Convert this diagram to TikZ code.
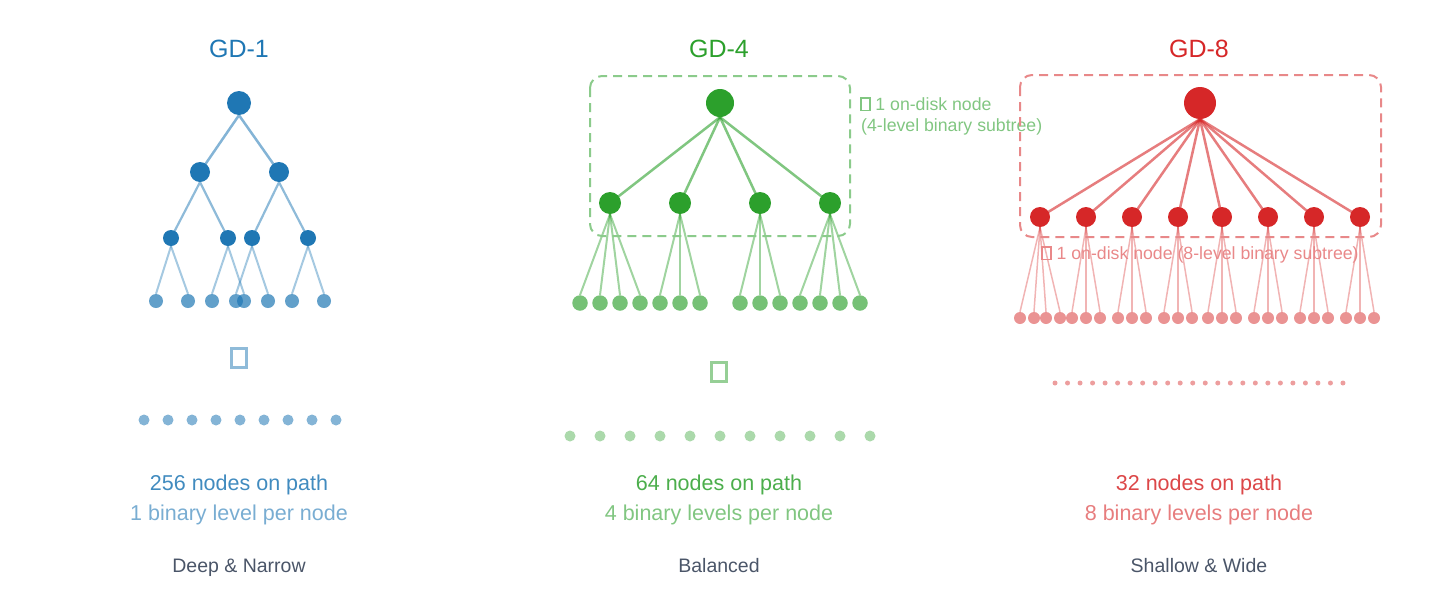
\documentclass[tikz,border=0pt]{standalone}
\usepackage{fontspec}
\setmainfont{Liberation Sans}
\usetikzlibrary{backgrounds}
\definecolor{cB}{HTML}{1F77B4}
\definecolor{cG}{HTML}{2CA02C}
\definecolor{cR}{HTML}{D62728}
\definecolor{slate}{HTML}{4A5568}
\newcommand\tofuglyph{{\setlength\fboxsep{0pt}\setlength\fboxrule{1.4pt}\fbox{\rule{0pt}{11.5pt}\hspace{7.5pt}}}}
\begin{document}
\begin{tikzpicture}[x=1pt,y=-1pt,
  dotn/.style={circle,inner sep=0pt,draw=none,minimum size=#1},
  title/.style={font=\fontsize{25}{30}\selectfont,anchor=base,inner sep=0pt},
  mainline/.style={font=\fontsize{21.5}{25}\selectfont,anchor=base,inner sep=0pt},
  caption/.style={font=\fontsize{19.5}{23}\selectfont,anchor=base,inner sep=0pt,text=slate},
  annot/.style={font=\fontsize{17.7}{21}\selectfont,inner sep=0pt},
  tofu/.style={draw=#1,line width=3pt,minimum width=15pt,minimum height=19pt,inner sep=0pt},
  diskbox/.style={draw=#1,line width=2pt,dash pattern=on 9pt off 6pt,rounded corners=12pt},
]
\useasboundingbox (0,0) rectangle (1440,600);

% ================= GD-1 =================
\node[title,text=cB] (t1) at (239,57) {GD-1};
\node[dotn=24pt,fill=cB] (b0) at (239,103) {};
\node[dotn=20pt,fill=cB] (b10) at (200,172) {};
\node[dotn=20pt,fill=cB] (b11) at (279,172) {};
\foreach \x [count=\i from 0] in {171,228,252,308}
  \node[dotn=16pt,fill=cB] (b2\i) at (\x,238) {};
\foreach \x [count=\i from 0] in {156,188,212,236,244,268,292,324}
  \node[dotn=14pt,fill=cB,fill opacity=.7] (b3\i) at (\x,301) {};
\begin{scope}[on background layer]
  \draw[cB,line width=2.5pt,draw opacity=.55] (b0.south) -- (b10.center) (b0.south) -- (b11.center);
  \draw[cB,line width=2.2pt,draw opacity=.5] (b10.south) -- (b20.center) (b10.south) -- (b21.center) (b11.south) -- (b22.center) (b11.south) -- (b23.center);
  \foreach \p/\c in {b20/b30,b20/b31,b21/b32,b21/b34,b22/b33,b22/b35,b23/b36,b23/b37}
    \draw[cB,line width=2pt,draw opacity=.4] (\p.south) -- (\c.north);
\end{scope}
\node[tofu=cB!50!white] (tb1) at (239,358) {};
\foreach \x [count=\i] in {144,168,192,216,240,264,288,312,336}
  \node[dotn=11pt,fill=cB,fill opacity=.55] (db\i) at (\x,420) {};
\node[mainline,text=cB!85!white] (m1) at (239,490) {256 nodes on path};
\node[mainline,text=cB!60!white] (s1) at (239,520) {1 binary level per node};
\node[caption] (c1) at (239,572) {Deep \& Narrow};

% ================= GD-4 =================
\node[title,text=cG] (t4) at (719,57) {GD-4};
\draw[diskbox=cG!55!white] (590,76) rectangle (850,236);
\node[dotn=28pt,fill=cG] (g0) at (720,103) {};
\foreach \x [count=\i] in {610,680,760,830}
  \node[dotn=22pt,fill=cG] (g1\i) at (\x,203) {};
\foreach \x [count=\i] in {580,600,620,640,660,680,700,740,760,780,800,820,840,860}
  \node[dotn=15.5pt,fill=cG,fill opacity=.65] (g2\i) at (\x,303) {};
\begin{scope}[on background layer]
  \foreach \i in {1,...,4}
    \draw[cG,line width=2.5pt,draw opacity=.6] (g0.south) -- (g1\i.center);
  \foreach \p/\c in {1/1,1/2,1/3,1/4,2/5,2/6,2/7,3/8,3/9,3/10,4/11,4/12,4/13,4/14}
    \draw[cG,line width=2pt,draw opacity=.45] (g1\p.south) -- (g2\c.north);
\end{scope}
\node[annot,text=cG!60!white,anchor=base west] (a4a) at (860,110) {\tofuglyph{} 1 on-disk node};
\node[annot,text=cG!60!white,anchor=base west] (a4b) at (861,131) {(4-level binary subtree)};
\node[tofu=cG!50!white] (tb4) at (719,372) {};
\foreach \x [count=\i] in {570,600,630,660,690,720,750,780,810,840,870}
  \node[dotn=11pt,fill=cG,fill opacity=.4] (dg\i) at (\x,436) {};
\node[mainline,text=cG!85!white] (m4) at (719,490) {64 nodes on path};
\node[mainline,text=cG!60!white] (s4) at (719,520) {4 binary levels per node};
\node[caption] (c4) at (719,572) {Balanced};

% ================= GD-8 =================
\node[title,text=cR] (t8) at (1199,57) {GD-8};
\draw[diskbox=cR!55!white] (1020,75) rectangle (1381,237);
\node[annot,text=cR!55!white,anchor=base] (a8) at (1200,259) {\tofuglyph{} 1 on-disk node (8-level binary subtree)};
\node[dotn=32pt,fill=cR] (r0) at (1200,103) {};
\foreach \x [count=\i] in {1040,1086,1132,1178,1222,1268,1314,1360}
  \node[dotn=20pt,fill=cR] (r1\i) at (\x,217) {};
\foreach \x [count=\i] in {1020,1034,1046,1060,1072,1086,1100,1118,1132,1146,1164,1178,1192,1208,1222,1236,1254,1268,1282,1300,1314,1328,1346,1360,1374}
  \node[dotn=12pt,fill=cR,fill opacity=.5] (r2\i) at (\x,318) {};
\begin{scope}[on background layer]
  \foreach \i in {1,...,8}
    \draw[cR,line width=2.5pt,draw opacity=.6] (r0.south) -- (r1\i.center);
  \foreach \p/\c in {1/1,1/2,1/3,1/4,2/5,2/6,2/7,3/8,3/9,3/10,4/11,4/12,4/13,5/14,5/15,5/16,6/17,6/18,6/19,7/20,7/21,7/22,8/23,8/24,8/25}
    \draw[cR,line width=1.5pt,draw opacity=.35] (r1\p.south) -- (r2\c.north);
\end{scope}
\foreach \i in {0,...,23}
  \node[dotn=5pt,fill=cR,fill opacity=.45] (dr\i) at ({1055+\i*12.52},383) {};
\node[mainline,text=cR!85!white] (m8) at (1199,490) {32 nodes on path};
\node[mainline,text=cR!60!white] (s8) at (1199,520) {8 binary levels per node};
\node[caption] (c8) at (1199,572) {Shallow \& Wide};
\end{tikzpicture}
\end{document}
